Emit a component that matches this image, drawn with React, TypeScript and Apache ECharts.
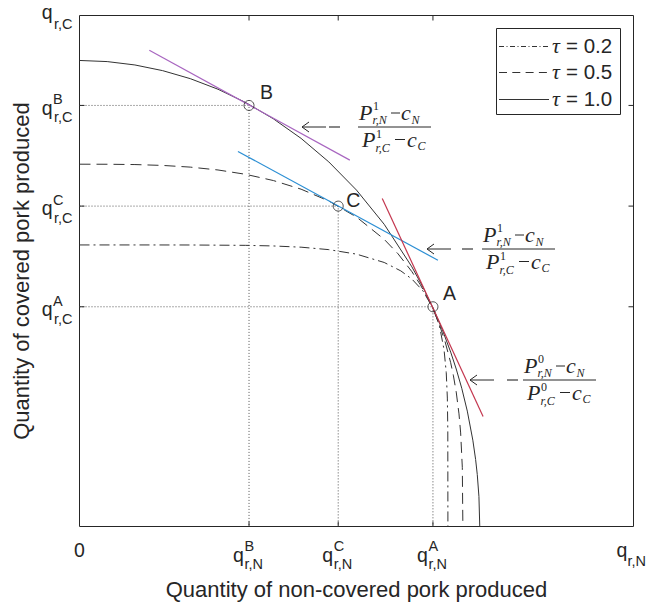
import React, { useEffect, useRef } from "react";
import * as echarts from "echarts";

// ---- data (shares of the axis ranges) ----
const pointNames = ["B", "C", "A"];
const pointN = [0.306, 0.467, 0.638]; // q_{r,N}
const pointC = [0.824, 0.627, 0.43]; // q_{r,C}

const curveTau10: number[][] = [
  [0, 0.912], [0.05, 0.9098], [0.1, 0.9032], [0.15, 0.8921], [0.2, 0.8764], [0.25, 0.8557],
  [0.3, 0.8297], [0.35, 0.7978], [0.4, 0.7595], [0.45, 0.7135], [0.5, 0.6583], [0.55, 0.5914],
  [0.6, 0.5081], [0.62, 0.4683], [0.64, 0.4232], [0.655, 0.3849], [0.67, 0.3413], [0.68, 0.3082],
  [0.69, 0.2705], [0.7, 0.2258], [0.71, 0.1689], [0.715, 0.1311], [0.718, 0.1017], [0.721, 0.0588],
  [0.7225, 0],
];
const curveTau05: number[][] = [
  [0, 0.709], [0.05, 0.7089], [0.1, 0.7083], [0.15, 0.7066], [0.2, 0.7033], [0.25, 0.6977],
  [0.3, 0.6892], [0.35, 0.677], [0.4, 0.6601], [0.45, 0.637], [0.5, 0.6056], [0.55, 0.562],
  [0.575, 0.5336], [0.6, 0.4987], [0.615, 0.4736], [0.63, 0.444], [0.64, 0.4207], [0.65, 0.3937],
  [0.66, 0.3614], [0.67, 0.3206], [0.675, 0.2948], [0.68, 0.2631], [0.685, 0.2204], [0.688, 0.1831],
  [0.691, 0.1156], [0.692, 0],
];
const curveTau02: number[][] = [
  [0, 0.551], [0.1, 0.551], [0.2, 0.5509], [0.3, 0.5502], [0.35, 0.549], [0.4, 0.5466],
  [0.45, 0.5418], [0.5, 0.533], [0.55, 0.5167], [0.58, 0.5002], [0.6, 0.4842], [0.62, 0.4611],
  [0.64, 0.4232], [0.65, 0.3911], [0.658, 0.3462], [0.662, 0.3013], [0.664, 0.2513],
  [0.6648, 0.19], [0.665, 0],
];

const tangentB: number[][] = [[0.126, 0.932], [0.488, 0.717]];
const tangentC: number[][] = [[0.286, 0.734], [0.647, 0.521]];
const tangentA: number[][] = [[0.5465, 0.642], [0.7285, 0.2154]];

const legendNames = ["τ = 0.2", "τ = 0.5", "τ = 1.0"];
const xAxisTitle = "Quantity of non-covered pork produced";
const yAxisTitle = "Quantity of covered pork produced";
const priceSup = ["1", "1", "0"];

// ---- styles ----
const FG = "#262626";
const SANS = '"Liberation Sans", Arial, Helvetica, sans-serif';
const SERIF = '"Liberation Serif", "Times New Roman", serif';
const DASHDOT = [10, 4, 2, 4];
const DASHED = [11, 6];
const PURPLE = "#a866c0";
const BLUE = "#2c8fd4";
const RED = "#c4374f";

type TOpt = { align?: string; italic?: boolean; serif?: boolean; color?: string };
function T(x: number, base: number, s: string, size: number, o: TOpt = {}) {
  const family = o.serif ? SERIF : SANS;
  const k = o.serif ? 0.3375 : 0.3465;
  const align = o.align || "left";
  return {
    type: "text",
    silent: true,
    z: 100,
    x,
    y: base - k * size,
    style: {
      text: s,
      font: `${o.italic ? "italic " : ""}${size}px ${family}`,
      fill: o.color || FG,
      textAlign: align,
      textVerticalAlign: "middle",
      align,
      verticalAlign: "middle",
    },
  };
}
function L(x1: number, y1: number, x2: number, y2: number, w = 1, dash?: number[] | null, color = FG) {
  return {
    type: "line",
    silent: true,
    z: 100,
    shape: { x1, y1, x2, y2 },
    style: { stroke: color, lineWidth: w, lineDash: dash || null },
  };
}

function annotation(ax: number, mx: number, b: number, y: number, sup: string) {
  const els: any[] = [];
  // arrow
  els.push(L(ax, y, ax + 24, y, 1));
  els.push({
    type: "polyline",
    silent: true,
    z: 100,
    shape: { points: [[ax + 7, y - 5], [ax, y], [ax + 7, y + 5]] },
    style: { stroke: FG, lineWidth: 1, fill: null },
  });
  // leading minus
  els.push(L(mx, y, mx + 11, y, 1.1));
  // fraction bar
  els.push(L(b, y, b + 73, y, 1));
  // numerator
  els.push(T(b + 1, y - 7, "P", 22, { serif: true, italic: true }));
  els.push(T(b + 15, y - 16.5, sup, 12, { serif: true }));
  els.push(T(b + 14.5, y - 3, "r,N", 12, { serif: true, italic: true }));
  els.push(L(b + 33, y - 14, b + 42, y - 14, 1));
  els.push(T(b + 43, y - 7, "c", 22, { serif: true, italic: true }));
  els.push(T(b + 53.5, y - 3, "N", 12, { serif: true, italic: true }));
  // denominator
  els.push(T(b + 4, y + 19.5, "P", 22, { serif: true, italic: true }));
  els.push(T(b + 18, y + 11.2, sup, 12, { serif: true }));
  els.push(T(b + 17.5, y + 24.6, "r,C", 12, { serif: true, italic: true }));
  els.push(L(b + 37, y + 12.5, b + 47, y + 12.5, 1));
  els.push(T(b + 49, y + 19.5, "c", 22, { serif: true, italic: true }));
  els.push(T(b + 59.5, y + 23.5, "C", 12, { serif: true, italic: true }));
  return els;
}

export default function App() {
  const ref = useRef<HTMLDivElement>(null);
  useEffect(() => {
    if (!ref.current) return;
    const chart = echarts.init(ref.current, undefined, { renderer: "svg" });
    const guides = pointN.map((x, i) => ({
      type: "line",
      data: [[0, pointC[i]], [x, pointC[i]], [x, 0]],
      showSymbol: false,
      silent: true,
      z: 1,
      lineStyle: { color: "#555", width: 1, type: [1, 2] },
    }));
    const curve = (data: number[][], type: any) => ({
      type: "line",
      data,
      showSymbol: false,
      silent: true,
      z: 2,
      lineStyle: { color: "#333", width: 1, type },
    });
    const tangent = (data: number[][], color: string) => ({
      type: "line",
      data,
      showSymbol: false,
      silent: true,
      z: 3,
      lineStyle: { color, width: 1.2, type: "solid" },
    });
    chart.setOption({
      animation: false,
      backgroundColor: "#ffffff",
      grid: {
        left: 79.5,
        top: 15.5,
        width: 554,
        height: 511,
        show: true,
        borderColor: FG,
        borderWidth: 1,
        backgroundColor: "transparent",
      },
      xAxis: {
        type: "value",
        min: 0,
        max: 1,
        axisLine: { show: false },
        axisTick: { show: false },
        axisLabel: { show: false },
        splitLine: { show: false },
      },
      yAxis: {
        type: "value",
        min: 0,
        max: 1,
        axisLine: { show: false },
        axisTick: { show: false },
        axisLabel: { show: false },
        splitLine: { show: false },
      },
      series: [
        ...guides,
        curve(curveTau02, DASHDOT),
        curve(curveTau05, DASHED),
        curve(curveTau10, "solid"),
        tangent(tangentB, PURPLE),
        tangent(tangentC, BLUE),
        tangent(tangentA, RED),
        {
          type: "scatter",
          data: pointN.map((x, i) => [x, pointC[i]]),
          symbol: "circle",
          symbolSize: 10,
          silent: true,
          z: 5,
          itemStyle: { color: "rgba(0,0,0,0)", borderColor: FG, borderWidth: 1 },
        },
      ],
    });

    const P = (x: number, y: number) => chart.convertToPixel({ gridIndex: 0 }, [x, y]) as number[];
    const [x0, yb] = P(0, 0);
    const [x1, yt] = P(1, 1);
    const els: any[] = [];

    // inward ticks (mirrored on top / right)
    pointN.forEach((x) => {
      const X = P(x, 0)[0];
      els.push(L(X, yb, X, yb - 5));
      els.push(L(X, yt, X, yt + 5));
    });
    pointC.forEach((y) => {
      const Y = P(0, y)[1];
      els.push(L(x0, Y, x0 + 5, Y));
      els.push(L(x1, Y, x1 - 5, Y));
    });

    // x tick labels
    els.push(T(x0, yb + 30, "0", 19.5, { align: "center" }));
    pointN.forEach((x, i) => {
      const X = P(x, 0)[0];
      els.push(T(X - 16, yb + 35, "q", 19.5));
      els.push(T(X - 4.5, yb + 25, pointNames[i], 14.5));
      els.push(T(X - 4.5, yb + 43, "r,N", 14.5));
    });
    els.push(T(x1 - 17, yb + 30, "q", 19.5));
    els.push(T(x1 - 6, yb + 40, "r,N", 14.5));

    // y tick labels
    pointC.forEach((y, i) => {
      const Y = P(0, y)[1];
      els.push(T(x0 - 27, Y + 9, "q", 19.5, { align: "right" }));
      els.push(T(x0 - 26.5, Y - 1, pointNames[i], 14.5));
      els.push(T(x0 - 7, Y + 17, "r,C", 14.5, { align: "right" }));
    });
    els.push(T(x0 - 27, yt + 3, "q", 19.5, { align: "right" }));
    els.push(T(x0 - 7, yt + 14, "r,C", 14.5, { align: "right" }));

    // axis titles
    els.push(T((x0 + x1) / 2, yb + 71, xAxisTitle, 22, { align: "center" }));
    els.push({
      type: "text",
      silent: true,
      z: 100,
      x: 21,
      y: (yb + yt) / 2,
      rotation: Math.PI / 2,
      style: {
        text: yAxisTitle,
        font: `22px ${SANS}`,
        fill: FG,
        textAlign: "center",
        textVerticalAlign: "middle",
        align: "center",
        verticalAlign: "middle",
      },
    });

    // point labels
    const labelOffsets = [[11, -7], [8, 1], [10, -7]];
    pointN.forEach((x, i) => {
      const [X, Y] = P(x, pointC[i]);
      els.push(T(X + labelOffsets[i][0], Y + labelOffsets[i][1], pointNames[i], 19.5));
    });

    // slope annotations
    els.push(...annotation(302, 329, 358, 127, priceSup[0]));
    els.push(...annotation(427, 462, 482, 249, priceSup[1]));
    els.push(...annotation(470, 507, 523, 380, priceSup[2]));

    // legend
    els.push({
      type: "rect",
      silent: true,
      z: 99,
      shape: { x: 496.5, y: 28.5, width: 124, height: 86 },
      style: { fill: "#ffffff", stroke: FG, lineWidth: 1 },
    });
    const rows = [46.5, 72.5, 99.5];
    const dashes = [[5, 2.5, 1, 2.5], [8, 5.3], null];
    legendNames.forEach((name, i) => {
      const y = rows[i];
      els.push(L(499, y, 549, y, 1, dashes[i] as any, "#333"));
      els.push(T(552, y + 6, name.slice(0, 1), 22, { serif: true, italic: true }));
      els.push(T(566, y + 6.5, name.slice(1).trim(), 20.5));
    });

    chart.setOption({ graphic: { elements: els } });
    return () => chart.dispose();
  }, []);
  return (
    <div
      ref={ref}
      style={{ position: "fixed", left: 0, top: 0, width: 649, height: 607, background: "#fff" }}
    />
  );
}
